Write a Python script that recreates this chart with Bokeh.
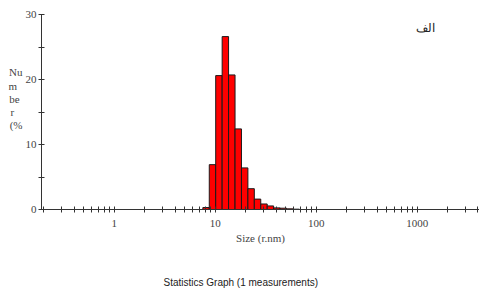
from bokeh.plotting import figure
from bokeh.models import FixedTicker, Label, ColumnDataSource, Title
from bokeh.embed import file_html
from bokeh.resources import INLINE

# ---- data ----
bin_edges = [7.531, 8.721, 10.1, 11.7, 13.54, 15.69, 18.17, 21.04, 24.36,
             28.21, 32.67, 37.84, 43.82, 50.75, 58.77, 68.06]
number_pct = [0.3, 6.9, 20.6, 26.6, 20.7, 12.4, 6.4, 3.2, 1.6, 0.85, 0.55,
              0.25, 0.2, 0.1, 0.05]
x_major = [1, 10, 100, 1000]
y_major = [0, 10, 20, 30]
y_minor = [5, 15, 25]
y_label_parts = ["Nu", "m", "be", "r", "(%"]
x_title = "Size (r.nm)"
bottom_title = "Statistics Graph (1 measurements)"
corner_text = "الف"

W, H = 479, 288
FL, FT, FB = 41, 14, 209
XS, XE = 0.19, 4140.0
SERIF = "Liberation Serif"
NB = "\u00a0"

x_minor = []
for dec in [0.1, 1, 10, 100, 1000]:
    for m in range(2, 10):
        v = dec * m
        if XS <= v <= XE:
            x_minor.append(v)

src = ColumnDataSource(dict(left=bin_edges[:-1], right=bin_edges[1:],
                            top=number_pct, bottom=[0] * len(number_pct)))

p = figure(width=W, height=H, x_axis_type="log", x_range=(XS, XE),
           y_range=(0, 30), output_backend="svg", toolbar_location=None,
           min_border_left=FL, min_border_right=0, min_border_top=FT,
           min_border_bottom=H - FB)
p.outline_line_color = None
p.grid.visible = False
p.background_fill_color = "white"

p.quad(left="left", right="right", top="top", bottom="bottom", source=src,
       fill_color="#ff0000", line_color="#1a1a1a", line_width=1)

xa = p.xaxis[0]
xa.ticker = FixedTicker(ticks=x_major, minor_ticks=x_minor)
xa.major_label_overrides = {1: "1", 10: "10", 100: "100", 1000: "1000"}
xa.major_tick_in = 3
xa.major_tick_out = 3
xa.minor_tick_in = 3
xa.minor_tick_out = 3
xa.major_label_standoff = 7
xa.axis_label = x_title
xa.axis_label_standoff = 2
xa.axis_label_text_font = SERIF
xa.axis_label_text_font_style = "normal"
xa.axis_label_text_font_size = "11px"
xa.major_label_text_font = SERIF
xa.major_label_text_font_size = "11px"
xa.axis_line_color = "#333333"
xa.major_tick_line_color = "#333333"
xa.minor_tick_line_color = "#333333"

ya = p.yaxis[0]
ya.ticker = FixedTicker(ticks=y_major, minor_ticks=y_minor)
ya.major_tick_in = 3
ya.major_tick_out = 3
ya.minor_tick_in = 3
ya.minor_tick_out = 3
ya.major_label_standoff = 2
ya.major_label_text_font = SERIF
ya.major_label_text_font_size = "11px"
ya.axis_line_color = "#333333"
ya.major_tick_line_color = "#333333"
ya.minor_tick_line_color = "#333333"
# pad the shorter lines so that the centred block reads as left-aligned
pads = [0, 2, 1, 3, 0]
ya.axis_label = ("\n".join(s + NB * n for s, n in zip(y_label_parts, pads))
                 + "\n" + NB + "\n" + NB)
ya.axis_label_orientation = "horizontal"
ya.axis_label_standoff = 0
ya.axis_label_text_font = SERIF
ya.axis_label_text_font_style = "normal"
ya.axis_label_text_font_size = "11px"
ya.axis_label_text_line_height = 1.1

p.add_layout(Label(x=425, y=27, x_units="canvas", y_units="canvas",
                   text=corner_text, text_font="DejaVu Serif",
                   text_font_size="12px", text_align="center",
                   text_baseline="middle", text_color="#222222"))

# spacer panel, then the caption at the very bottom of the canvas
p.add_layout(Title(text=NB, standoff=14, text_font="Liberation Sans",
                   text_font_size="10px", text_font_style="normal"), "below")
p.add_layout(Title(text=bottom_title, align="left", offset=122, standoff=2,
                   text_font="Liberation Sans", text_font_size="10px",
                   text_font_style="normal", text_color="#222222"), "below")

open("out.html", "w").write(file_html(p, INLINE))
